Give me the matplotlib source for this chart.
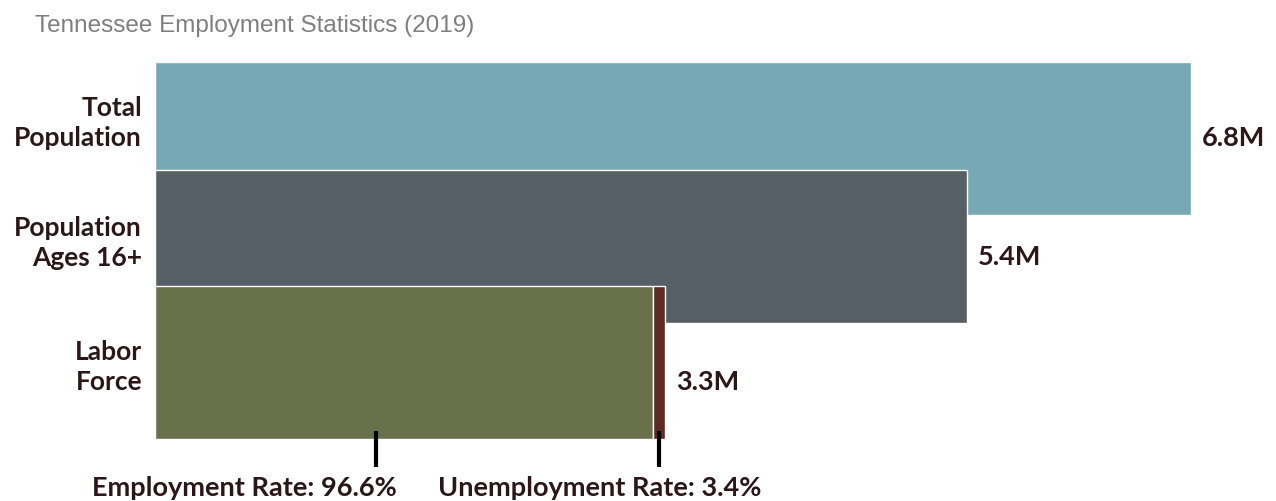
import matplotlib.pyplot as plt

# ---------------------------------------------------------------------------
# Data (millions of people, Tennessee 2019)
# ---------------------------------------------------------------------------
categories = ["Total\nPopulation", "Population\nAges 16+", "Labor\nForce"]
totals = [6.83, 5.35]          # total population, population 16+
employed = 3.28
unemployed = 0.08
value_labels = ["6.8M", "5.4M", "3.3M"]
rate_labels = ["Employment Rate: 96.6%", "Unemployment Rate: 3.4%"]

# ---------------------------------------------------------------------------
# Layout (pixels of a 1276 x 502 canvas)
# ---------------------------------------------------------------------------
W, H = 1276, 502
X0, X1 = 155, 1191                 # x pixel of 0 and of the total population
BAR_Y = [139.5, 247.5, 363.5]      # bar centres
BAR_H = 153
CAT_Y = [123, 243, 367]
VAL_Y = [138, 257, 382]

COLORS = ["#76A9B3", "#565E66", "#69714A", "#5E2A24"]
TEXT = "#2B1618"

fig = plt.figure(figsize=(W / 100, H / 100), dpi=100)
ax = fig.add_axes([X0 / W, 0, (X1 - X0) / W, 1])
ax.set_xlim(0, totals[0])
ax.set_ylim(H, 0)
ax.axis("off")

px = totals[0] / (X1 - X0)   # data units per pixel

ax.barh(BAR_Y[0], totals[0], height=BAR_H, color=COLORS[0],
        edgecolor="white", linewidth=1)
ax.barh(BAR_Y[1], totals[1], height=BAR_H, color=COLORS[1],
        edgecolor="white", linewidth=1)
ax.barh(BAR_Y[2], employed, height=BAR_H, color=COLORS[2],
        edgecolor="white", linewidth=1)
ax.barh(BAR_Y[2], unemployed, left=employed, height=BAR_H, color=COLORS[3],
        edgecolor="white", linewidth=1)

ends = [totals[0], totals[1], employed + unemployed]
for end, y, lab in zip(ends, VAL_Y, value_labels):
    ax.text(end + 11 * px, y, lab, ha="left", va="center", fontsize=19.5,
            fontweight="bold", family="Lato", color=TEXT, clip_on=False)

for y, cat in zip(CAT_Y, categories):
    fig.text(142 / W, 1 - y / H, cat, ha="right", va="center", fontsize=19,
             fontweight="bold", family="Lato", color=TEXT, linespacing=1.25)

# rate markers below the labor force bar
bar_bottom = BAR_Y[2] + BAR_H / 2
tick_x = [1.46, employed + unemployed / 2]
for x in tick_x:
    ax.plot([x, x], [bar_bottom - 8, bar_bottom + 28], color="black",
            linewidth=3, solid_capstyle="butt", clip_on=False)

fig.text(244 / W, 1 - 488 / H, rate_labels[0], ha="center", va="center",
         fontsize=19.5, fontweight="bold", family="Lato", color=TEXT)
fig.text(600 / W, 1 - 488 / H, rate_labels[1], ha="center", va="center",
         fontsize=19.5, fontweight="bold", family="Lato", color=TEXT)

fig.text(35 / W, 1 - 32 / H, "Tennessee Employment Statistics (2019)",
         ha="left", va="baseline", fontsize=17.5, family="Liberation Sans",
         color="#7F7F7F")

fig.savefig("out.png", dpi=100)
